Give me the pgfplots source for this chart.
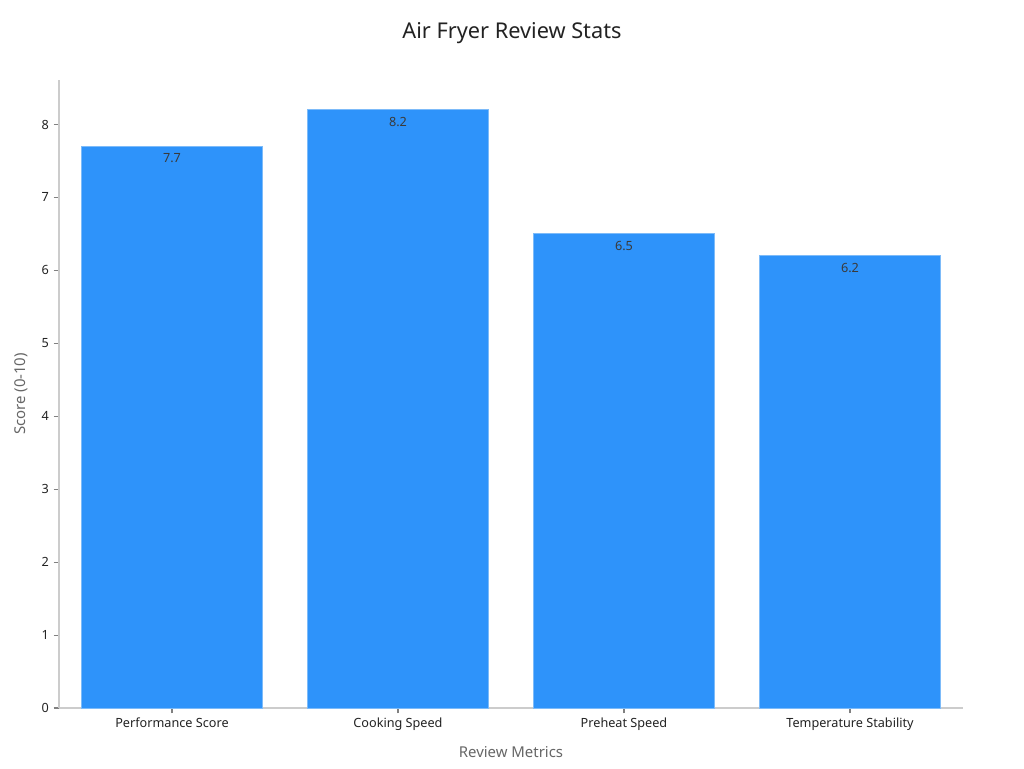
\documentclass[border=0pt]{standalone}
\usepackage{fontspec}
\setmainfont{Noto Sans}
\usepackage{pgfplots}
\pgfplotsset{compat=1.18}
\definecolor{barblue}{HTML}{2E93FA}
\definecolor{baredge}{HTML}{7DBBF9}
\definecolor{axisgray}{HTML}{CCCCCC}
\definecolor{labelgray}{HTML}{666666}
\definecolor{ticktext}{HTML}{222222}
\definecolor{valtext}{HTML}{3A3A3A}
\begin{document}
\begin{tikzpicture}
\path[use as bounding box] (-44.25pt,-45pt) rectangle (723.75pt,531pt);
\begin{axis}[
    at={(0,0)}, anchor=south west,
    scale only axis,
    width=678pt, height=471pt,
    xmin=-0.5, xmax=3.5,
    ymin=0, ymax=8.61,
    axis lines*=left,
    axis line style={axisgray, line width=0.8pt},
    xtick=data,
    xticklabels={Performance Score, Cooking Speed, Preheat Speed, Temperature Stability},
    ytick={0,1,...,8},
    tick style={color=gray, line width=0.8pt},
    tick align=outside,
    major tick length=4pt,
    ticklabel style={font=\fontsize{9.5}{11}\selectfont, text=ticktext},
    /pgf/number format/assume math mode=true,
    xlabel={Review Metrics},
    ylabel={Score (0-10)},
    label style={font=\fontsize{11.2}{13}\selectfont, text=labelgray},
    xlabel style={at={(axis description cs:0.5,0)}, anchor=north, yshift=-25pt},
    ylabel style={at={(axis description cs:0,0.5)}, anchor=south, yshift=20pt},
    ybar, bar width=135.75pt,
    nodes near coords,
    nodes near coords style={anchor=north, yshift=-2pt, font=\fontsize{9.5}{11}\selectfont, text=valtext},
    point meta=explicit symbolic,
]
\addplot[fill=barblue, draw=baredge, line width=0.6pt] coordinates {
    (0,7.7) [7.7] (1,8.2) [8.2] (2,6.5) [6.5] (3,6.2) [6.2]
};
\end{axis}
\node[font=\fontsize{16.3}{19}\selectfont, text=ticktext] at (339.75pt,506.25pt) {Air Fryer Review Stats};
\end{tikzpicture}
\end{document}
